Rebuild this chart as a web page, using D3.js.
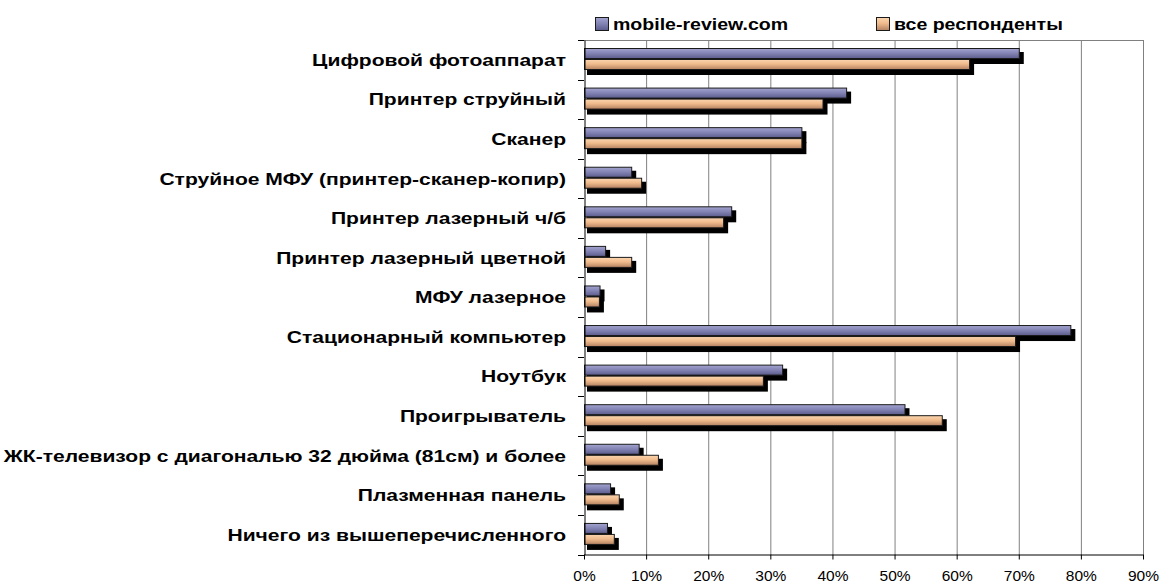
<!DOCTYPE html>
<html>
<head>
<meta charset="utf-8">
<script src="https://cdn.jsdelivr.net/npm/d3@7"></script>
<style>
  body { margin: 0; background: #fff; }
  svg { display: block; font-family: Arial, "Liberation Sans", sans-serif; }
</style>
</head>
<body>
<svg id="chart" width="1160" height="586"></svg>
<script>
const categories = [
  "Цифровой фотоаппарат",
  "Принтер струйный",
  "Сканер",
  "Струйное МФУ (принтер-сканер-копир)",
  "Принтер лазерный ч/б",
  "Принтер лазерный цветной",
  "МФУ лазерное",
  "Стационарный компьютер",
  "Ноутбук",
  "Проигрыватель",
  "ЖК-телевизор с диагональю 32 дюйма (81см) и более",
  "Плазменная панель",
  "Ничего из вышеперечисленного",
];
const mobileReview = [70, 42.2, 35, 7.6, 23.7, 3.4, 2.5, 78.3, 31.9, 51.6, 8.8, 4.2, 3.7];
const allRespondents = [62, 38.4, 35, 9.2, 22.4, 7.6, 2.4, 69.4, 28.8, 57.6, 11.9, 5.6, 4.8];
const seriesNames = ["mobile-review.com", "все респонденты"];
const xTicks = [0, 10, 20, 30, 40, 50, 60, 70, 80, 90];

const svg = d3.select("#chart");
const plot = { left: 584, right: 1143, top: 40, bottom: 554.5 };

const x = d3.scaleLinear().domain([0, 90]).range([plot.left, plot.right]);
const y = d3.scaleBand().domain(categories).range([plot.top, plot.bottom]);

// gradients for the bar fills
const defs = svg.append("defs");
const gradients = [
  ["gBlue", [["0%", "#a4a4d0"], ["45%", "#8585b6"], ["100%", "#5c5c8c"]]],
  ["gOrange", [["0%", "#fbd6b0"], ["45%", "#f0bb8c"], ["100%", "#b48262"]]],
];
gradients.forEach(([id, stops]) => {
  const g = defs.append("linearGradient").attr("id", id).attr("x1", 0).attr("y1", 0).attr("x2", 0).attr("y2", 1);
  stops.forEach(([o, c]) => g.append("stop").attr("offset", o).attr("stop-color", c));
});

// gridlines
svg.append("g")
  .selectAll("line")
  .data(xTicks.slice(1))
  .join("line")
  .attr("x1", (d) => x(d) + 0.5)
  .attr("x2", (d) => x(d) + 0.5)
  .attr("y1", plot.top)
  .attr("y2", plot.bottom)
  .attr("stroke", "#808080");

svg.append("line")
  .attr("x1", plot.left).attr("x2", plot.right + 0.5)
  .attr("y1", plot.top + 0.5).attr("y2", plot.top + 0.5)
  .attr("stroke", "#808080");

// bars
const rows = categories.map((c, i) => ({ cat: c, values: [mobileReview[i], allRespondents[i]] }));
const barTop = [8, 19];
const barH = 11;
const fills = ["url(#gBlue)", "url(#gOrange)"];

const shadows = svg.append("g");
const bars = svg.append("g");
rows.forEach((row) => {
  row.values.forEach((v, s) => {
    const y0 = y(row.cat) + barTop[s];
    shadows.append("rect")
      .attr("x", x(0) + 3)
      .attr("y", y0 + 4)
      .attr("width", x(v) - x(0) + 2)
      .attr("height", barH + 1)
      .attr("fill", "#000");
  });
});
rows.forEach((row) => {
  row.values.forEach((v, s) => {
    const y0 = y(row.cat) + barTop[s];
    bars.append("rect")
      .attr("x", x(0) + 0.5)
      .attr("y", y0 + 0.5)
      .attr("width", x(v) - x(0))
      .attr("height", barH - 1)
      .attr("fill", fills[s])
      .attr("stroke", "#1a1a1a")
      .attr("stroke-width", 1);
  });
});

// x axis
const xAxis = svg.append("g")
  .attr("transform", `translate(0,${plot.bottom})`)
  .call(d3.axisBottom(x).tickValues(xTicks).tickFormat((d) => d + "%").tickSizeInner(5).tickSizeOuter(0));
xAxis.select(".domain").attr("stroke", "#000");
xAxis.selectAll(".tick line").attr("stroke", "#000");
xAxis.selectAll("text")
  .attr("font-family", "Arial, 'Liberation Sans', sans-serif")
  .attr("font-size", 15.5)
  .attr("fill", "#000")
  .attr("dy", "1.2em");

// y axis
const yAxis = svg.append("g")
  .attr("transform", `translate(${plot.left + 0.5},0)`)
  .call(d3.axisLeft(y).tickSize(0).tickFormat(""));
yAxis.select(".domain").attr("stroke", "#000");
svg.append("g")
  .selectAll("line")
  .data(d3.range(categories.length + 1))
  .join("line")
  .attr("x1", plot.left - 6)
  .attr("x2", plot.left)
  .attr("y1", (i) => Math.round(plot.top + i * y.step()) + 0.5)
  .attr("y2", (i) => Math.round(plot.top + i * y.step()) + 0.5)
  .attr("stroke", "#000");

// category labels, stretched like the original
svg.append("g")
  .selectAll("text")
  .data(categories)
  .join("text")
  .attr("transform", (d) => `translate(566,${y(d) + y.bandwidth() / 2 + 6}) scale(1.24,1)`)
  .attr("text-anchor", "end")
  .attr("font-size", 17)
  .attr("font-weight", "bold")
  .attr("fill", "#000")
  .text((d) => d);

// legend
const legend = svg.append("g");
const legendX = [595, 876];
seriesNames.forEach((name, s) => {
  legend.append("rect")
    .attr("x", legendX[s] + 0.5).attr("y", 17.5)
    .attr("width", 13).attr("height", 13)
    .attr("fill", fills[s]).attr("stroke", "#1a1a1a");
  legend.append("text")
    .attr("transform", `translate(${legendX[s] + 18},30) scale(1.15,1)`)
    .attr("font-size", 17)
    .attr("font-weight", "bold")
    .text(name);
});
</script>
</body>
</html>
